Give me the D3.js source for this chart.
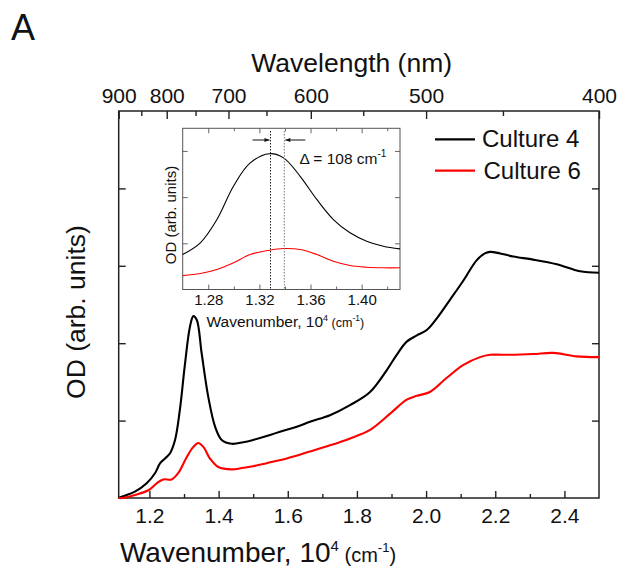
<!DOCTYPE html>
<html><head><meta charset="utf-8">
<script src="https://cdn.jsdelivr.net/npm/d3@7"></script>
<style>
body{margin:0;background:#fff}
svg{display:block}
text{font-family:"Liberation Sans",Arial,Helvetica,sans-serif;fill:#111}
</style>
</head><body>
<svg id="chart" width="620" height="567"></svg>
<script>
// Absorbance spectra; wavenumber in units of 10^4 cm^-1, OD in arbitrary units
const culture4Wavenumber = [1.111,1.120,1.158,1.192,1.216,1.231,1.245,1.259,1.274,1.288,1.302,1.317,1.327,1.337,1.351,1.370,1.390,1.409,1.438,1.471,1.500,1.539,1.587,1.626,1.664,1.722,1.780,1.838,1.886,1.915,1.944,1.973,2.002,2.031,2.069,2.108,2.146,2.170,2.185,2.214,2.252,2.310,2.378,2.445,2.500];
const culture4OD = [0.0,0.017,0.082,0.19,0.32,0.45,0.51,0.575,0.75,1.14,1.70,2.21,2.35,2.30,1.87,1.31,0.92,0.75,0.70,0.72,0.75,0.80,0.87,0.92,0.985,1.07,1.20,1.37,1.65,1.85,2.02,2.10,2.17,2.32,2.56,2.81,3.07,3.16,3.18,3.16,3.12,3.08,3.02,2.93,2.91];
const culture6Wavenumber = [1.111,1.120,1.158,1.197,1.221,1.240,1.264,1.283,1.308,1.327,1.341,1.356,1.375,1.399,1.438,1.471,1.500,1.539,1.597,1.664,1.722,1.780,1.838,1.896,1.944,1.973,2.011,2.059,2.108,2.156,2.185,2.243,2.310,2.368,2.435,2.500];
const culture6OD = [0.0,0.0,0.04,0.10,0.19,0.24,0.24,0.32,0.53,0.66,0.71,0.66,0.51,0.40,0.37,0.39,0.41,0.45,0.51,0.60,0.68,0.77,0.88,1.09,1.27,1.32,1.37,1.55,1.72,1.82,1.85,1.85,1.86,1.875,1.83,1.82];

// Zoom on the Qy band (inset)
const insetWavenumber = [1.2600,1.2738,1.2868,1.2998,1.3128,1.3279,1.3389,1.3519,1.3649,1.3779,1.3909,1.4039,1.4169,1.4300];
const inset4OD = [0.758,1.01,1.515,2.24,2.74,2.94,2.85,2.45,1.95,1.515,1.227,1.045,0.937,0.88];
const inset6OD = [0.30,0.346,0.433,0.577,0.758,0.85,0.887,0.866,0.758,0.613,0.52,0.483,0.47,0.47];
const peakPositions = [1.3287, 1.3395];
const peakShiftLabel = "Δ = 108 cm";

// Tick values
const wavelengthTicks = [900,800,700,600,500,400];
const wavelengthMinor = [850,750,650,550,450];
const wavenumberTicks = [1.2,1.4,1.6,1.8,2.0,2.2,2.4];
const wavenumberMinor = [1.3,1.5,1.7,1.9,2.1,2.3,2.5];
const odTicks = [0,1,2,3,4,5];
const insetTicks = [1.28,1.32,1.36,1.40];
const insetMinor = [1.26,1.30,1.34,1.38,1.42];
const insetOdTicks = [0,1,2,3];

const seriesNames = ["Culture 4","Culture 6"];
const seriesColors = ["#000000","#ff0000"];

const svg = d3.select("#chart");

// ---------- main panel ----------
const x = d3.scaleLinear().domain([1000/900, 2.5]).range([118.7, 599]);
const y = d3.scaleLinear().domain([0, 5]).range([498, 111]);
const axisColor = "#222";

function styleAxis(g, w) {
  g.select(".domain").remove();
  g.selectAll(".tick line").attr("stroke", axisColor).attr("stroke-width", w);
  g.selectAll(".tick text").attr("fill", "#111");
}

// bottom axis
svg.append("g").attr("transform", `translate(0,${y(0)})`)
  .call(d3.axisBottom(x).tickValues(wavenumberTicks).tickFormat(d3.format(".1f")).tickSize(-7).tickPadding(10))
  .call(g => { styleAxis(g, 1.4); g.selectAll(".tick text").attr("font-size", 21).attr("font-family", null); });
svg.append("g").attr("transform", `translate(0,${y(0)})`)
  .call(d3.axisBottom(x).tickValues(wavenumberMinor.filter(v => v < 2.5)).tickFormat("").tickSize(-4))
  .call(g => styleAxis(g, 1.4));

// top axis in wavelength (nm)
const wl = d => 1000 / d;
svg.append("g").attr("transform", `translate(0,${y(5)})`)
  .call(d3.axisTop(x).tickValues(wavelengthTicks.map(wl)).tickFormat(d => d3.format(".0f")(1000 / d)).tickSize(-8).tickPadding(8))
  .call(g => { styleAxis(g, 1.4); g.selectAll(".tick text").attr("font-size", 21).attr("font-family", null); });
svg.append("g").attr("transform", `translate(0,${y(5)})`)
  .call(d3.axisTop(x).tickValues(wavelengthMinor.map(wl)).tickFormat("").tickSize(-5))
  .call(g => styleAxis(g, 1.4));

// left / right axes (no labels)
svg.append("g").attr("transform", `translate(${x.range()[0]},0)`)
  .call(d3.axisLeft(y).tickValues(odTicks.slice(1, -1)).tickFormat("").tickSize(-7))
  .call(g => styleAxis(g, 1.4));
svg.append("g").attr("transform", `translate(${x.range()[1]},0)`)
  .call(d3.axisRight(y).tickValues(odTicks.slice(1, -1)).tickFormat("").tickSize(-7))
  .call(g => styleAxis(g, 1.4));

// frame
svg.append("rect")
  .attr("x", x.range()[0]).attr("y", y(5))
  .attr("width", x.range()[1] - x.range()[0]).attr("height", y(0) - y(5))
  .attr("fill", "none").attr("stroke", axisColor).attr("stroke-width", 1.5);

// spectra
const line = d3.line().x(d => x(d[0])).y(d => y(d[1])).curve(d3.curveCatmullRom.alpha(0.5));
const mainSeries = [d3.zip(culture4Wavenumber, culture4OD), d3.zip(culture6Wavenumber, culture6OD)];
svg.append("g").selectAll("path").data(mainSeries).join("path")
  .attr("d", line).attr("fill", "none")
  .attr("stroke", (d, i) => seriesColors[i]).attr("stroke-width", 2.1)
  .attr("stroke-linejoin", "round");

// axis titles
svg.append("text").attr("x", 351.7).attr("y", 71.5).attr("text-anchor", "middle")
  .attr("font-size", 26.5).text("Wavelength (nm)");

const xt = svg.append("text").attr("x", 258).attr("y", 561.5).attr("text-anchor", "middle").attr("font-size", 28);
xt.append("tspan").text("Wavenumber, 10");
xt.append("tspan").attr("font-size", 15).attr("dy", -11).text("4");
xt.append("tspan").attr("font-size", 20).attr("dy", 11).text(" (cm");
xt.append("tspan").attr("font-size", 13).attr("dy", -10).text("-1");
xt.append("tspan").attr("font-size", 20).attr("dy", 10).text(")");

svg.append("text").attr("transform", "translate(85,312) rotate(-90)").attr("text-anchor", "middle")
  .attr("font-size", 26.5).text("OD (arb. units)");

svg.append("text").attr("x", 11).attr("y", 40).attr("font-size", 36).text("A");

// legend
const legend = svg.append("g").selectAll("g").data(seriesNames).join("g")
  .attr("transform", (d, i) => `translate(435,${139.3 + i * 31.4})`);
legend.append("line").attr("x1", 0).attr("x2", 40).attr("y1", 0).attr("y2", 0)
  .attr("stroke", (d, i) => seriesColors[i]).attr("stroke-width", 2.2);
legend.append("text").attr("x", (d, i) => 47 + i * 1.5).attr("y", 7.8).attr("font-size", 24).text(d => d);

// ---------- inset ----------
const ix = d3.scaleLinear().domain([1.26, 1.43]).range([182.7, 400]);
const iy = d3.scaleLinear().domain([0, 3.49]).range([289.5, 128.3]);
const insetColor = "#555";
const inset = svg.append("g");

function styleInset(g) {
  g.select(".domain").remove();
  g.selectAll(".tick line").attr("stroke", insetColor).attr("stroke-width", 0.9);
}
inset.append("rect").attr("x", 182.7).attr("y", 128.3).attr("width", 400 - 182.7).attr("height", 289.5 - 128.3)
  .attr("fill", "#fff").attr("stroke", insetColor).attr("stroke-width", 1);

inset.append("g").attr("transform", `translate(0,${iy(0)})`)
  .call(d3.axisBottom(ix).tickValues(insetTicks).tickFormat(d3.format(".2f")).tickSize(-5).tickPadding(5))
  .call(g => { styleInset(g); g.selectAll(".tick text").attr("font-size", 15).attr("font-family", null); });
inset.append("g").attr("transform", `translate(0,${iy(0)})`)
  .call(d3.axisBottom(ix).tickValues(insetMinor.slice(1)).tickFormat("").tickSize(-3))
  .call(styleInset);
inset.append("g").attr("transform", `translate(0,${iy.range()[1]})`)
  .call(d3.axisTop(ix).tickValues(insetTicks).tickFormat("").tickSize(-5))
  .call(styleInset);
inset.append("g").attr("transform", `translate(0,${iy.range()[1]})`)
  .call(d3.axisTop(ix).tickValues(insetMinor.slice(1)).tickFormat("").tickSize(-3))
  .call(styleInset);
inset.append("g").attr("transform", `translate(${ix.range()[0]},0)`)
  .call(d3.axisLeft(iy).tickValues(insetOdTicks.slice(1)).tickFormat("").tickSize(-5))
  .call(styleInset);
inset.append("g").attr("transform", `translate(${ix.range()[1]},0)`)
  .call(d3.axisRight(iy).tickValues(insetOdTicks.slice(1)).tickFormat("").tickSize(-5))
  .call(styleInset);

const iline = d3.line().x(d => ix(d[0])).y(d => iy(d[1])).curve(d3.curveCatmullRom.alpha(0.5));
inset.append("g").selectAll("path").data([d3.zip(insetWavenumber, inset4OD), d3.zip(insetWavenumber, inset6OD)]).join("path")
  .attr("d", iline).attr("fill", "none")
  .attr("stroke", (d, i) => seriesColors[i]).attr("stroke-width", 1.1);

// peak markers
inset.append("g").selectAll("line").data(peakPositions).join("line")
  .attr("x1", d => ix(d)).attr("x2", d => ix(d))
  .attr("y1", 131).attr("y2", iy(0) - 1)
  .attr("stroke", (d, i) => i === 0 ? "#222" : "#777")
  .attr("stroke-width", 1).attr("stroke-dasharray", "1.5,1.5");

const defs = svg.append("defs");
defs.append("marker").attr("id", "ah").attr("viewBox", "0 0 10 10").attr("refX", 10).attr("refY", 5)
  .attr("markerWidth", 6).attr("markerHeight", 5).attr("orient", "auto")
  .append("path").attr("d", "M0,1L10,5L0,9Z").attr("fill", "#111");
inset.append("line").attr("x1", ix(peakPositions[0]) - 18).attr("x2", ix(peakPositions[0]) - 1)
  .attr("y1", 140).attr("y2", 140).attr("stroke", "#111").attr("stroke-width", 1).attr("marker-end", "url(#ah)");
inset.append("line").attr("x1", ix(peakPositions[1]) + 21).attr("x2", ix(peakPositions[1]) + 1)
  .attr("y1", 140).attr("y2", 140).attr("stroke", "#111").attr("stroke-width", 1).attr("marker-end", "url(#ah)");

const dt = inset.append("text").attr("x", 299.5).attr("y", 163.5).attr("font-size", 15.5);
dt.append("tspan").text(peakShiftLabel);
dt.append("tspan").attr("font-size", 10).attr("dy", -7).text("-1");

const ixt = inset.append("text").attr("x", 206.5).attr("y", 326.5).attr("font-size", 15.5);
ixt.append("tspan").text("Wavenumber, 10");
ixt.append("tspan").attr("font-size", 9).attr("dy", -6).text("4");
ixt.append("tspan").attr("font-size", 12.5).attr("dy", 6).text(" (cm");
ixt.append("tspan").attr("font-size", 8.5).attr("dy", -6).text("-1");
ixt.append("tspan").attr("font-size", 12.5).attr("dy", 6).text(")");

inset.append("text").attr("transform", "translate(175.5,215) rotate(-90)").attr("text-anchor", "middle")
  .attr("font-size", 15).text("OD (arb. units)");
</script>
</body></html>
